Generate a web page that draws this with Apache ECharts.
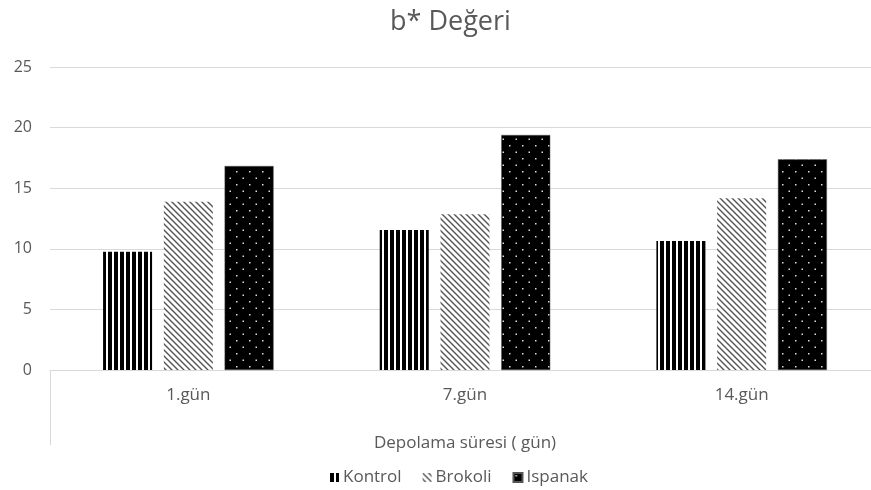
<!DOCTYPE html>
<html>
<head>
<meta charset="utf-8">
<script src="https://cdn.jsdelivr.net/npm/echarts@6/dist/echarts.min.js"></script>
<style>
html,body{margin:0;padding:0;background:#fff;overflow:hidden;width:871px;height:490px;}
#main{width:900px;height:490px;}
</style>
</head>
<body>
<div id="main"></div>
<script>
const categories = ['1.gün', '7.gün', '14.gün'];
const seriesNames = ['Kontrol', 'Brokoli', 'Ispanak'];
const kontrol = [9.76, 11.55, 10.64];
const brokoli = [13.89, 12.85, 14.17];
const ispanak = [16.83, 19.39, 17.38];
const yTicks = [0, 5, 10, 15, 20, 25];

function makePattern(kind) {
  const c = document.createElement('canvas');
  const ctx = c.getContext('2d');
  if (kind === 'vert') {
    c.width = 6; c.height = 6;
    ctx.fillStyle = '#fff'; ctx.fillRect(0, 0, 6, 6);
    ctx.fillStyle = '#000'; ctx.fillRect(0, 0, 4, 6);
  } else if (kind === 'diag') {
    c.width = 6; c.height = 6;
    ctx.fillStyle = '#fff'; ctx.fillRect(0, 0, 6, 6);
    ctx.strokeStyle = '#555'; ctx.lineWidth = 1.4;
    ctx.beginPath();
    ctx.moveTo(-3, -3); ctx.lineTo(9, 9);
    ctx.moveTo(-9, -3); ctx.lineTo(3, 9);
    ctx.moveTo(3, -3); ctx.lineTo(15, 9);
    ctx.stroke();
  } else {
    c.width = 13; c.height = 13;
    ctx.fillStyle = '#000'; ctx.fillRect(0, 0, 13, 13);
    ctx.fillStyle = '#ddd';
    ctx.fillRect(2, 2, 1.5, 1.5);
    ctx.fillRect(8.5, 8.5, 1.5, 1.5);
  }
  return { image: c, repeat: 'repeat' };
}

const patterns = [makePattern('vert'), makePattern('diag'), makePattern('dots')];
const dataSets = [kontrol, brokoli, ispanak];

const chart = echarts.init(document.getElementById('main'));
const font = 'Open Sans';
chart.setOption({
  animation: false,
  title: {
    text: 'b* Değeri',
    left: 385, top: 4,
    textStyle: { fontFamily: font, fontSize: 27, fontWeight: 'normal', color: '#595959' }
  },
  legend: {
    data: seriesNames,
    left: 325, top: 464,
    itemWidth: 9, itemHeight: 9, itemGap: 21,
    icon: 'rect',
    textStyle: { fontFamily: font, fontSize: 17, color: '#595959', padding: [0, 0, 0, -1] }
  },
  grid: { left: 50, top: 67, width: 830, height: 303, containLabel: false },
  xAxis: {
    type: 'category',
    data: categories,
    name: 'Depolama süresi ( gün)',
    nameLocation: 'middle',
    nameGap: 65,
    nameTextStyle: { fontFamily: font, fontSize: 17, color: '#595959' },
    axisLine: { show: true, lineStyle: { color: '#d9d9d9', width: 1 } },
    axisTick: { show: true, length: 75, interval: function (i) { return i === 0; }, lineStyle: { color: '#d9d9d9' } },
    axisLabel: { fontFamily: font, fontSize: 17, color: '#595959', margin: 17 }
  },
  yAxis: {
    type: 'value',
    min: yTicks[0], max: yTicks[yTicks.length - 1], interval: 5,
    axisLine: { show: false },
    axisTick: { show: false },
    splitLine: { lineStyle: { color: '#d9d9d9', width: 1 } },
    axisLabel: { fontFamily: font, fontSize: 16, color: '#595959', margin: 18 }
  },
  series: seriesNames.map((n, i) => ({
    name: n,
    type: 'bar',
    data: dataSets[i],
    barWidth: 49,
    barGap: '24%',
    itemStyle: { color: patterns[i], borderColor: i === 2 ? '#555' : 'transparent', borderWidth: i === 2 ? 0.5 : 0 }
  }))
});
</script>
</body>
</html>
